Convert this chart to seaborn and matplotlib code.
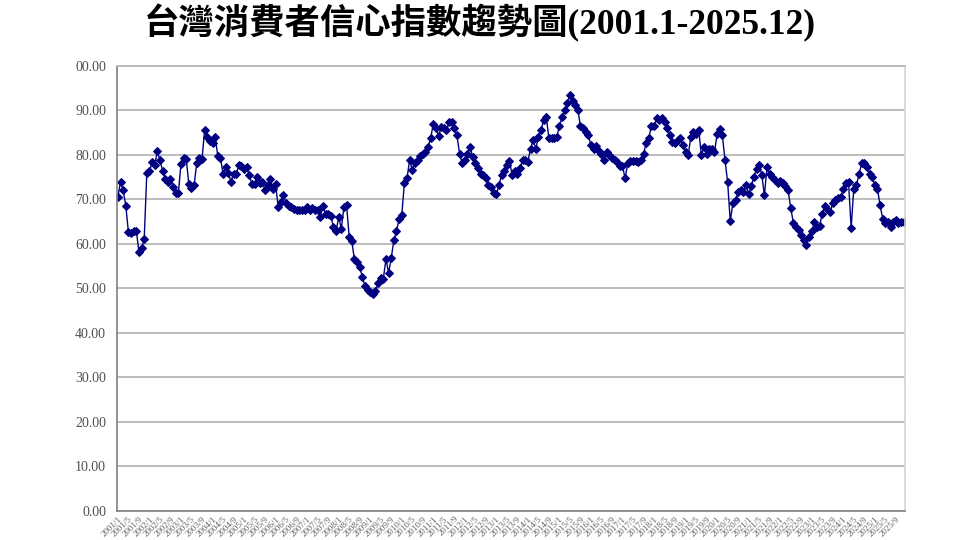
import matplotlib
matplotlib.use('Agg')
import matplotlib.pyplot as plt
import pandas as pd
import seaborn as sns

sns.set_theme(style="white")
plt.rcParams['font.family'] = ['Liberation Serif', 'Noto Sans CJK TC', 'DejaVu Sans']

# Monthly consumer confidence index
y2001 = [70.6, 74.0, 72.0, 68.6, 62.6, 62.5, 62.8, 63.0, 58.2, 59.0, 61.0, 76.0]
y2002 = [76.3, 78.3, 77.8, 80.8, 78.8, 76.4, 74.6, 74.0, 74.6, 72.8, 71.4, 71.4]
y2003 = [78.0, 79.3, 79.0, 73.4, 72.6, 73.2, 78.2, 79.2, 79.0, 85.6, 84.0, 83.2]
y2004 = [82.6, 84.0, 79.8, 79.4, 75.8, 77.2, 76.0, 74.0, 75.8, 75.6, 77.8, 77.4]
y2005 = [76.8, 77.3, 75.4, 73.5, 73.4, 75.0, 73.6, 73.8, 72.0, 73.2, 74.6, 72.4]
y2006 = [73.4, 68.2, 69.4, 70.9, 69.2, 68.6, 68.2, 67.9, 67.7, 67.5, 67.5, 67.6]
y2007 = [68.3, 67.6, 68.0, 67.5, 67.6, 66.0, 68.6, 66.6, 66.8, 66.3, 63.8, 62.8]
y2008 = [66.0, 63.4, 68.2, 68.8, 61.6, 60.6, 56.5, 56.0, 54.8, 52.6, 50.5, 49.6]
y2009 = [49.2, 48.7, 49.4, 51.1, 52.3, 52.2, 56.6, 53.5, 56.8, 60.8, 62.8, 65.7]
y2010 = [66.4, 73.6, 74.7, 78.9, 76.6, 78.1, 78.8, 79.7, 80.3, 80.6, 81.8, 83.7]
y2011 = [87.0, 86.0, 84.2, 86.3, 86.0, 85.6, 87.3, 87.3, 86.0, 84.4, 80.3, 78.1]
y2012 = [78.8, 80.3, 81.7, 79.6, 78.1, 77.0, 75.8, 75.5, 74.7, 73.2, 72.7, 71.5]
y2013 = [71.1, 73.2, 75.5, 76.3, 77.7, 78.6, 75.5, 76.3, 75.8, 77.1, 78.8, 78.8]
y2014 = [78.5, 81.4, 83.3, 81.4, 84.0, 85.6, 87.8, 88.5, 83.7, 83.7, 83.7, 84.0]
y2015 = [86.5, 88.5, 90.1, 91.6, 93.4, 92.1, 91.3, 90.1, 86.5, 86.0, 85.2, 84.4]
y2016 = [82.2, 81.3, 82.0, 80.8, 80.2, 78.8, 80.6, 79.9, 79.4, 78.9, 78.3, 77.6]
y2017 = [77.5, 74.7, 78.1, 78.6, 78.6, 78.6, 78.5, 78.8, 80.3, 82.6, 83.8, 86.5]
y2018 = [86.5, 88.2, 87.8, 88.2, 87.3, 86.0, 84.4, 82.9, 82.6, 83.3, 83.7, 82.2]
y2019 = [80.7, 79.9, 84.1, 85.2, 84.8, 85.6, 79.9, 81.8, 80.3, 81.3, 81.3, 80.7]
y2020 = [84.6, 85.8, 84.4, 78.8, 73.9, 65.1, 69.1, 69.8, 71.7, 72.1, 71.7, 73.2]
y2021 = [71.3, 72.9, 75.1, 76.8, 77.7, 75.5, 70.9, 77.3, 75.8, 75.1, 74.3, 73.6]
y2022 = [74.1, 73.6, 72.9, 72.1, 68.1, 64.8, 63.8, 63.1, 62.0, 60.9, 59.7, 61.6]
y2023 = [62.8, 64.9, 63.8, 64.1, 66.8, 68.6, 67.9, 67.1, 69.2, 69.8, 70.3, 70.5]
y2024 = [72.4, 73.6, 73.9, 63.6, 72.4, 73.2, 75.6, 78.1, 78.1, 77.3, 75.8, 75.1]
y2025 = [73.2, 72.4, 68.7, 65.7, 64.6, 64.9, 63.8, 64.9, 65.3, 64.6, 64.9, 64.9]

years = list(range(2001, 2026))
yearly = [y2001, y2002, y2003, y2004, y2005, y2006, y2007, y2008, y2009, y2010,
          y2011, y2012, y2013, y2014, y2015, y2016, y2017, y2018, y2019, y2020,
          y2021, y2022, y2023, y2024, y2025]

y_ticks = [0, 10, 20, 30, 40, 50, 60, 70, 80, 90, 100]
y_tick_labels = ["0.00", "10.00", "20.00", "30.00", "40.00", "50.00",
                 "60.00", "70.00", "80.00", "90.00", "00.00"]

rows = []
for yr, vals in zip(years, yearly):
    for m, v in enumerate(vals, start=1):
        rows.append({'year': yr, 'month': m, 'cci': v})
df = pd.DataFrame(rows)
df['idx'] = range(len(df))

# x tick labels every 4 months
tick_df = df[df['idx'] % 4 == 0]
x_tick_labels = [f"{y}/{m}" for y, m in zip(tick_df['year'], tick_df['month'])]

fig = plt.figure(figsize=(9.6, 5.4), dpi=100)
ax = fig.add_axes([0.122, 0.054, 0.821, 0.824])

ax.yaxis.grid(True, color='#b8b8b8', linewidth=1.3)
ax.set_axisbelow(True)

sns.lineplot(data=df, x='idx', y='cci', ax=ax, color='#000080', linewidth=1.0,
             marker='D', markersize=3.6, markeredgecolor='#000080',
             markerfacecolor='#000080')

ax.set_ylim(0, 100)
ax.set_xlim(-0.3, 299.6)
ax.set_yticks(y_ticks)
ax.set_yticklabels(y_tick_labels, fontsize=10, color='#505050')
ax.set_xticks(tick_df['idx'])
ax.set_xticklabels(x_tick_labels, rotation=45, ha='right', fontsize=6.5,
                   color='#606060', rotation_mode='anchor')
ax.tick_params(axis='x', direction='in', length=3, color='#808080', pad=3)
ax.tick_params(axis='y', length=0, pad=8)
ax.set_xlabel('')
ax.set_ylabel('')

for side in ['left', 'bottom']:
    ax.spines[side].set_color('#808080')
    ax.spines[side].set_linewidth(1.2)
ax.spines['top'].set_color('#b8b8b8')
ax.spines['top'].set_linewidth(1.3)
ax.spines['right'].set_color('#d4d4d4')
ax.spines['right'].set_linewidth(1.2)

fig.text(0.5, 0.958, "台灣消費者信心指數趨勢圖(2001.1-2025.12)", ha='center', va='center',
         fontsize=25.5, fontweight='bold', color='black',
         family=['Liberation Serif', 'Noto Sans CJK TC'])

fig.savefig('out.png', dpi=100)
